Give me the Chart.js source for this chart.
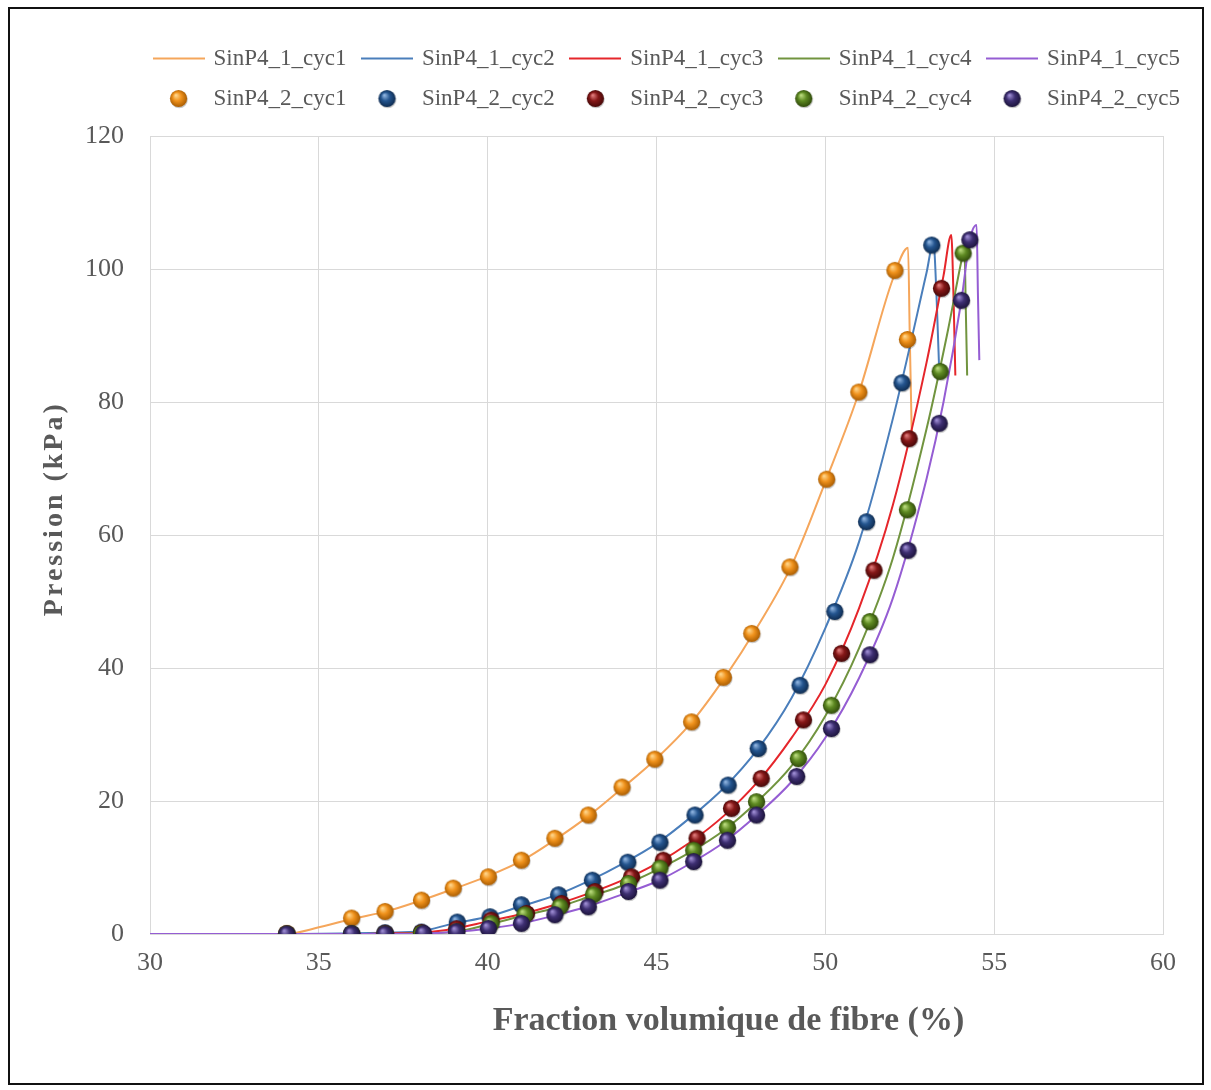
<!DOCTYPE html>
<html>
<head>
<meta charset="utf-8">
<title>Pression - fraction volumique de fibre</title>
<script src="https://cdn.jsdelivr.net/npm/chart.js"></script>
<style>
    html, body { margin: 0; padding: 0; background: #fff; }
    #wrap { position: relative; width: 1211px; height: 1090px; }
    #chart-pression { position: absolute; left: 0; top: 0; }
    #frame { position: absolute; left: 8px; top: 7px; width: 1196px; height: 1078px; box-sizing: border-box; border: 2px solid #111; pointer-events: none; }
</style>
</head>
<body>
<div id="wrap">
    <canvas id="chart-pression" width="1211" height="1090"></canvas>
    <div id="frame"></div>
</div>
<script>
// series names
var lineNames = ['SinP4_1_cyc1', 'SinP4_1_cyc2', 'SinP4_1_cyc3', 'SinP4_1_cyc4', 'SinP4_1_cyc5'];
var dotNames = ['SinP4_2_cyc1', 'SinP4_2_cyc2', 'SinP4_2_cyc3', 'SinP4_2_cyc4', 'SinP4_2_cyc5'];

// axis ticks
var xTicks = [30, 35, 40, 45, 50, 55, 60];
var yTicks = [0, 20, 40, 60, 80, 100, 120];

var xTitle = 'Fraction volumique de fibre (%)';
var yTitle = 'Pression (kPa)';

// SinP4_1 (lines)
var line1X = [30, 34, 35, 36, 37, 38, 39, 40, 41, 42, 43, 44, 45, 46, 47, 48, 49, 50, 51, 52, 52.45, 52.5, 52.56];
var line1Y = [0, 0, 1.0, 2.3, 3.4, 5.0, 6.8, 8.7, 11.0, 14.2, 17.8, 22.0, 26.4, 31.6, 38.4, 46.3, 55.4, 68.0, 81.5, 98.5, 103.2, 90, 75];

var line2X = [30, 34, 36, 37, 38, 39, 40, 41, 42, 43, 44, 45, 46, 47, 48, 49, 50, 51, 52, 53, 53.2, 53.3, 53.38];
var line2Y = [0, 0, 0.1, 0.2, 0.4, 1.6, 2.6, 4.2, 5.8, 8.0, 10.6, 13.6, 17.5, 22.0, 27.8, 35.5, 46.0, 59.0, 77.5, 99.5, 104.0, 95, 83.5];

var line3X = [30, 34, 36, 37, 38, 39, 40, 41, 42, 43, 44, 45, 46, 47, 48, 49, 50, 51, 52, 53, 53.5, 53.73, 53.8, 53.85];
var line3Y = [0, 0, 0, 0.1, 0.2, 0.8, 1.9, 3.0, 4.4, 6.1, 8.1, 10.6, 13.8, 17.8, 22.9, 29.5, 37.5, 49.0, 64.5, 86.0, 99.0, 105.1, 95, 84];

var line4X = [30, 34, 37, 38, 39, 40, 41, 42, 43, 44, 45, 46, 47, 48, 49, 50, 51, 52, 53, 53.6, 54.08, 54.12, 54.16, 54.2];
var line4Y = [0, 0, 0, 0.1, 0.3, 1.4, 2.7, 3.9, 5.6, 7.3, 9.6, 12.3, 15.6, 20.0, 25.3, 32.8, 43.0, 56.5, 76.0, 90.0, 102.4, 103.2, 94, 84];

var line5X = [30, 34, 37, 38, 39, 40, 41, 42, 43, 44, 45, 46, 47, 48, 49, 50, 51, 52, 53, 53.5, 54.03, 54.28, 54.48, 54.52, 54.56];
var line5Y = [0, 0, 0, 0.05, 0.3, 0.8, 1.6, 2.8, 4.2, 6.0, 7.9, 10.6, 13.8, 18.0, 22.9, 29.5, 38.5, 50.5, 68.5, 80, 95.3, 104.4, 106.6, 96, 86.3];

// SinP4_2 (markers)
var dot1X = [34.05, 35.97, 36.96, 38.04, 38.98, 40.02, 41.0, 41.99, 42.98, 43.98, 44.95, 46.04, 46.98, 47.82, 48.95, 50.04, 50.99, 52.06, 52.43];
var dot1Y = [0.1, 2.4, 3.4, 5.1, 6.9, 8.6, 11.1, 14.4, 17.9, 22.1, 26.3, 31.9, 38.6, 45.2, 55.2, 68.4, 81.5, 99.8, 89.4];

var dot2X = [34.05, 35.97, 36.96, 38.04, 39.1, 40.07, 41.0, 42.1, 43.1, 44.15, 45.1, 46.14, 47.12, 48.01, 49.25, 50.28, 51.22, 52.27, 53.15];
var dot2Y = [0, 0.1, 0.2, 0.3, 1.8, 2.6, 4.4, 5.9, 8.1, 10.8, 13.8, 17.9, 22.4, 27.9, 37.4, 48.5, 62.0, 82.9, 103.6];

var dot3X = [34.05, 35.97, 36.96, 38.04, 39.08, 40.1, 41.15, 42.19, 43.18, 44.26, 45.2, 46.2, 47.22, 48.1, 49.35, 50.48, 51.44, 52.48, 53.44];
var dot3Y = [0, 0, 0.1, 0.2, 0.8, 2.1, 3.1, 4.6, 6.4, 8.6, 11.1, 14.4, 18.9, 23.4, 32.2, 42.2, 54.7, 74.5, 97.1];

var dot4X = [34.05, 35.97, 36.96, 38.04, 39.08, 40.1, 41.1, 42.14, 43.13, 44.17, 45.1, 46.1, 47.1, 47.96, 49.2, 50.18, 51.32, 52.43, 53.4, 54.08];
var dot4Y = [0, 0, 0, 0.1, 0.35, 1.6, 2.9, 4.1, 5.9, 7.6, 9.9, 12.6, 16.0, 19.9, 26.4, 34.4, 47.0, 63.8, 84.6, 102.4];

var dot5X = [34.05, 35.97, 36.96, 38.1, 39.08, 40.02, 41.0, 41.99, 42.98, 44.17, 45.1, 46.1, 47.1, 47.96, 49.15, 50.18, 51.32, 52.45, 53.37, 54.03, 54.28];
var dot5Y = [0, 0, 0, 0.1, 0.35, 0.85, 1.6, 2.9, 4.1, 6.4, 8.1, 10.9, 14.1, 17.9, 23.7, 30.9, 42.0, 57.7, 76.8, 95.3, 104.4];

var lineColors = ['#F5A65B', '#4A7EBB', '#E5262B', '#71943F', '#955DD3'];
// base, light, dark for the shaded balls
var ballColors = [
    ['#F0921C', '#FFD58A', '#A65A00'],
    ['#24558F', '#8FB4E0', '#0E2A4D'],
    ['#861818', '#E07A7A', '#420707'],
    ['#5E8A22', '#B9DA7C', '#2D4709'],
    ['#3E2F72', '#9E8DD4', '#1A1238']
];

document.addEventListener('DOMContentLoaded', function () {

    DrawPressionChart();

});


function toPoints(xs, ys) {
    var pts = [];
    for (var i = 0; i < xs.length; i++) {
        pts.push({ x: xs[i], y: ys[i] });
    }
    return pts;
}

// little shaded sphere, used as marker and in the legend
function makeBall(c) {
    var cv = document.createElement('canvas');
    cv.width = 21;
    cv.height = 21;
    var g = cv.getContext('2d');
    g.beginPath();
    g.arc(11.2, 11.6, 8.6, 0, Math.PI * 2);
    g.fillStyle = 'rgba(0,0,0,0.22)';
    g.fill();
    var grad = g.createRadialGradient(7.8, 7.2, 0.5, 10.5, 10.5, 9);
    grad.addColorStop(0, c[1]);
    grad.addColorStop(0.45, c[0]);
    grad.addColorStop(1, c[2]);
    g.beginPath();
    g.arc(10.5, 10.5, 8.6, 0, Math.PI * 2);
    g.fillStyle = grad;
    g.fill();
    return cv;
}

function makeLineMark(color) {
    var cv = document.createElement('canvas');
    cv.width = 52;
    cv.height = 4;
    var g = cv.getContext('2d');
    g.fillStyle = color;
    g.fillRect(0, 1, 52, 2);
    return cv;
}

// axis titles, drawn by hand to sit where the original had them
var axisTitles = {
    id: 'axisTitles',
    afterDraw: function (chart) {
        var ctx = chart.ctx;
        var area = chart.chartArea;
        ctx.save();
        ctx.fillStyle = '#595959';
        ctx.textAlign = 'center';
        ctx.textBaseline = 'middle';

        ctx.font = 'bold 34px "Liberation Serif"';
        ctx.fillText(xTitle, area.left + (area.right - area.left) * 0.571, area.bottom + 87, 480);

        ctx.translate(area.left - 95, area.top + (area.bottom - area.top) * 0.467);
        ctx.rotate(-Math.PI / 2);
        ctx.font = 'bold 28px "Liberation Serif"';
        ctx.letterSpacing = '3px';
        ctx.fillText(yTitle, 0, 0);
        ctx.restore();
    }
};

var pressionChart = null;
function DrawPressionChart() {

    if (pressionChart != null) {
        pressionChart.destroy();
    }

    var lineX = [line1X, line2X, line3X, line4X, line5X];
    var lineY = [line1Y, line2Y, line3Y, line4Y, line5Y];
    var dotX = [dot1X, dot2X, dot3X, dot4X, dot5X];
    var dotY = [dot1Y, dot2Y, dot3Y, dot4Y, dot5Y];

    var datasets = [];
    for (var i = 0; i < 5; i++) {
        datasets.push({
            label: lineNames[i],
            data: toPoints(lineX[i], lineY[i]),
            showLine: true,
            borderColor: lineColors[i],
            backgroundColor: lineColors[i],
            borderWidth: 2,
            pointRadius: 0,
            pointHoverRadius: 0,
            pointStyle: makeLineMark(lineColors[i]),
            cubicInterpolationMode: 'monotone',
            order: 20 - i
        });
    }
    for (var j = 0; j < 5; j++) {
        datasets.push({
            label: dotNames[j],
            data: toPoints(dotX[j], dotY[j]),
            showLine: false,
            pointRadius: 9,
            pointStyle: makeBall(ballColors[j]),
            backgroundColor: ballColors[j][0],
            borderColor: ballColors[j][0],
            order: 10 - j
        });
    }

    Chart.defaults.font.family = '"Liberation Serif", "Times New Roman", serif';
    Chart.defaults.color = '#595959';

    var tickFont = { family: '"Liberation Serif"', size: 26 };

    var canvas = document.getElementById('chart-pression').getContext('2d');
    pressionChart = new Chart(canvas, {
        type: 'scatter',
        data: { datasets: datasets },
        options: {
            responsive: false,
            animation: false,
            layout: { padding: { left: 0, right: 14, top: 30, bottom: 0 } },
            plugins: {
                legend: {
                    position: 'top',
                    align: 'end',
                    labels: {
                        usePointStyle: true,
                        pointStyleWidth: 47,
                        padding: 17,
                        color: '#595959',
                        font: { family: '"Liberation Serif"', size: 23 },
                        sort: function (a, b) { return a.datasetIndex - b.datasetIndex; }
                    }
                },
                tooltip: { enabled: false }
            },
            scales: {
                x: {
                    type: 'linear',
                    position: 'bottom',
                    min: xTicks[0],
                    max: xTicks[xTicks.length - 1],
                    ticks: { stepSize: xTicks[1] - xTicks[0], padding: 14, color: '#595959', font: tickFont },
                    grid: { color: '#d9d9d9', lineWidth: 1, drawTicks: false },
                    border: { color: '#d9d9d9' },
                    afterFit: function (s) { s.height = 156; }
                },
                // empty top band, keeps the plot below the legend
                xTop: {
                    type: 'linear',
                    position: 'top',
                    min: xTicks[0],
                    max: xTicks[xTicks.length - 1],
                    ticks: { display: false },
                    grid: { display: false },
                    border: { display: false },
                    afterFit: function (s) { s.height = 16; }
                },
                y: {
                    type: 'linear',
                    position: 'left',
                    min: yTicks[0],
                    max: yTicks[yTicks.length - 1],
                    ticks: { stepSize: yTicks[1] - yTicks[0], padding: 26, color: '#595959', font: tickFont },
                    grid: { color: '#d9d9d9', lineWidth: 1, drawTicks: false },
                    border: { color: '#d9d9d9' },
                    afterFit: function (s) { s.width = 150; }
                },
                yRight: {
                    type: 'linear',
                    position: 'right',
                    min: yTicks[0],
                    max: yTicks[yTicks.length - 1],
                    ticks: { display: false },
                    grid: { display: false },
                    border: { display: false },
                    afterFit: function (s) { s.width = 34; }
                }
            }
        },
        plugins: [axisTitles]
    });

}
</script>
</body>
</html>
